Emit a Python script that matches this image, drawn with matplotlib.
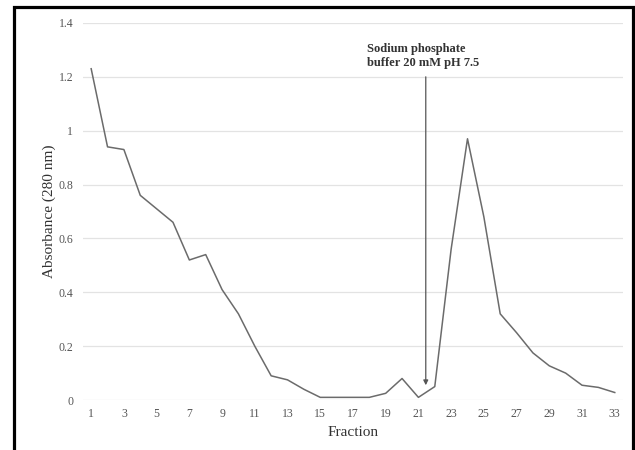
import matplotlib
matplotlib.use("Agg")
import matplotlib.pyplot as plt
from matplotlib.patches import Rectangle
import numpy as np

plt.rcParams['font.family'] = ['Liberation Serif', 'DejaVu Serif']

fraction = np.arange(1, 34)
absorbance = [1.23, 0.94, 0.93, 0.76, 0.71, 0.66, 0.52, 0.54, 0.41, 0.32,
              0.20, 0.09, 0.075, 0.04, 0.01, 0.01, 0.01, 0.01, 0.025, 0.08,
              0.01, 0.05, 0.56, 0.97, 0.68, 0.32, 0.25, 0.175, 0.127, 0.10,
              0.055, 0.047, 0.028]
yticks = [0, 0.2, 0.4, 0.6, 0.8, 1.0, 1.2, 1.4]
ytick_labels = ["0", "0.2", "0.4", "0.6", "0.8", "1", "1.2", "1.4"]
buffer_fraction = 21.45
buffer_label = "Sodium phosphate\nbuffer 20 mM pH 7.5"

fig = plt.figure(figsize=(6.35, 4.5), dpi=100)
ax = fig.add_axes([0.1307, 0.111, 0.8503, 0.838])

ax.plot(fraction, absorbance, color="#6b6b6b", lw=1.1)

ax.set_xlim(0.5, 33.5)
ax.set_ylim(0, 1.4)
ax.set_xticks(fraction[::2])
ax.set_yticks(yticks)
ax.set_yticklabels(ytick_labels)
ax.grid(axis="y", color="#e3e3e3", lw=0.9)
ax.set_axisbelow(True)
for s in ax.spines.values():
    s.set_visible(False)
ax.tick_params(length=0, labelsize=8.5, colors="#555555", pad=6)
ax.tick_params(axis="y", pad=7)

ax.set_xlabel("Fraction", fontsize=11, color="#333333", labelpad=4)
ax.set_ylabel("Absorbance (280 nm)", fontsize=11, color="#333333", labelpad=1.5)

ax.annotate("", xy=(buffer_fraction, 0.055), xytext=(buffer_fraction, 1.20),
            arrowprops=dict(arrowstyle="-|>", color="#555555", lw=0.9,
                            mutation_scale=7, shrinkA=0, shrinkB=0))
ax.text(17.85, 1.325, buffer_label, fontsize=9, fontweight="bold",
        color="#333333", ha="left", va="top", linespacing=1.2)

# black frame round the figure (no bottom edge visible)
fig.add_artist(Rectangle((14 / 635, -0.05), 619 / 635, 1.05 - 7 / 450,
                         transform=fig.transFigure, fill=False,
                         edgecolor="black", lw=2.3))

fig.savefig("out.png", dpi=100)
